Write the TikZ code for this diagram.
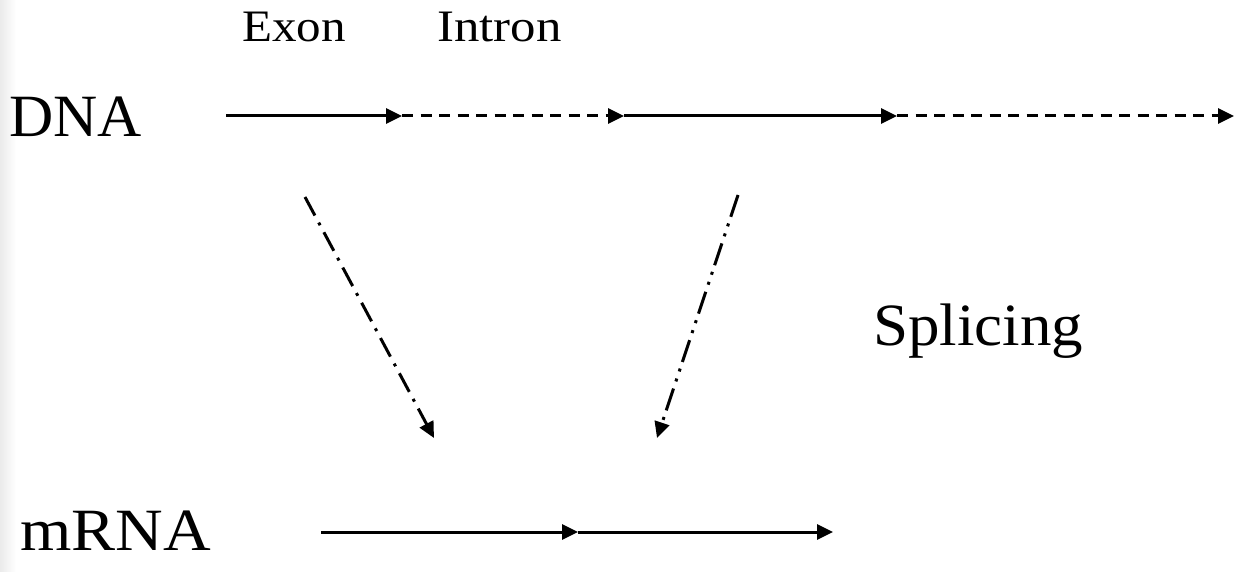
\documentclass[tikz,border=0pt]{standalone}
\usepackage{fontspec}
\setmainfont{Liberation Serif}
\usetikzlibrary{arrows.meta}
\tikzset{
  big/.style={font=\fontsize{60}{70}\selectfont, inner sep=0pt, anchor=base west},
  small/.style={font=\fontsize{45}{52}\selectfont, inner sep=0pt, anchor=base west},
  seg/.style={line width=3pt, -{Triangle[length=16pt,width=15pt]}},
  dashseg/.style={seg, dash pattern=on 11pt off 7.5pt},
  dotdash/.style={seg, dash pattern=on 21pt off 8pt on 3pt off 8pt},
  dotdotdash/.style={seg, dash pattern=on 23pt off 7pt on 3pt off 7.5pt on 3pt off 7.5pt},
}
\begin{document}
\begin{tikzpicture}[x=1pt,y=-1pt]
\useasboundingbox (0,0) rectangle (1237,572);
\shade[left color=black!8, right color=white] (0,0) rectangle (16,572);
% labels
\node[small] (exon) at (242,42) {\scalebox{1.09}[1]{Exon}};
\node[small] (intron) at (437,42) {\scalebox{1.13}[1]{Intron}};
\node[big] (dna) at (9,137) {\scalebox{1.02}[1]{DNA}};
\node[big] (splicing) at (873,345) {\scalebox{1.05}[1]{Splicing}};
\node[big] (mrna) at (20,550) {\scalebox{1.10}[1]{mRNA}};
% DNA line
\coordinate (d0) at (226,116);
\coordinate (d1) at (402,116);
\coordinate (d2) at (624,116);
\coordinate (d3) at (897,116);
\coordinate (d4) at (1234,116);
\draw[seg] (d0) -- (d1);
\draw[dashseg] (d1) -- (d2);
\draw[seg] (d2) -- (d3);
\draw[dashseg] (d3) -- (d4);
% mRNA line
\coordinate (m0) at (321,532);
\coordinate (m1) at (578,532);
\coordinate (m2) at (833,532);
\draw[seg] (m0) -- (m1);
\draw[seg] (m1) -- (m2);
% splicing arrows
\coordinate (a0) at (305,197);
\coordinate (a1) at (434,438);
\coordinate (b0) at (738,195);
\coordinate (b1) at (657,438);
\draw[dotdash] (a0) -- (a1);
\draw[dotdotdash] (b0) -- (b1);
\end{tikzpicture}
\end{document}
